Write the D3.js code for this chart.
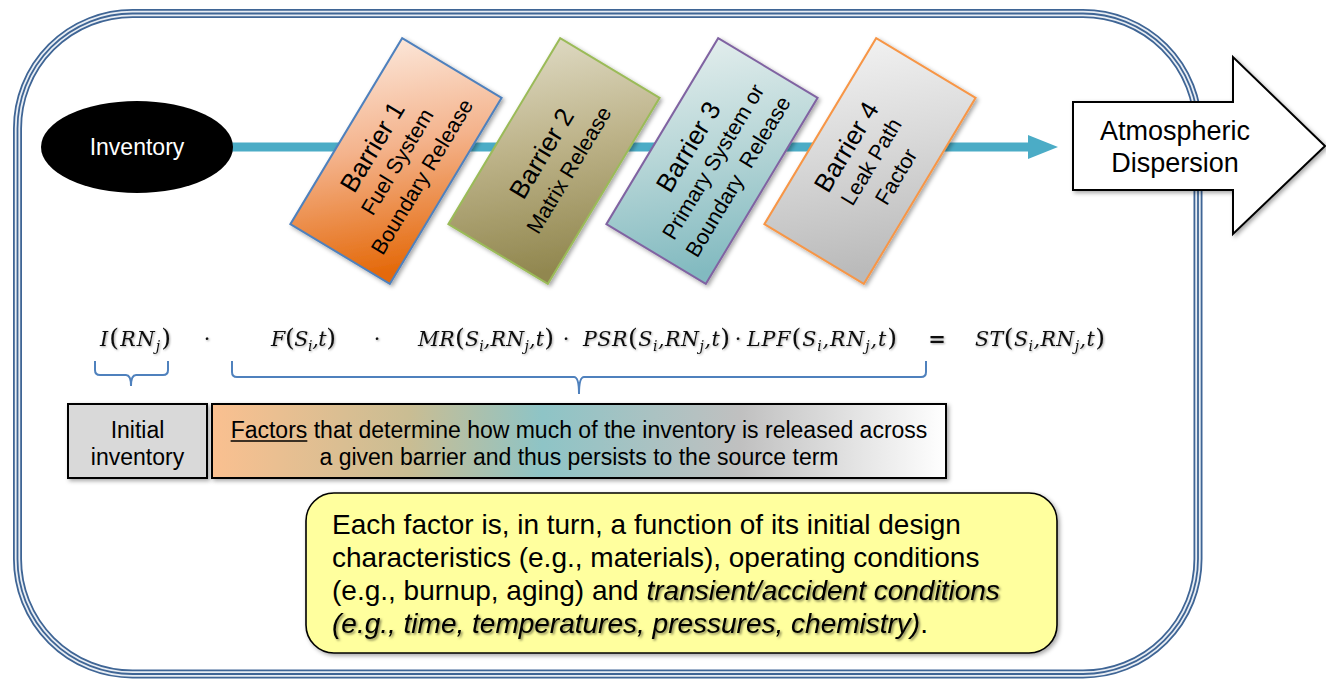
<!DOCTYPE html>
<html><head><meta charset="utf-8">
<script src="https://cdn.jsdelivr.net/npm/d3@7/dist/d3.min.js"></script>
<style>body{margin:0;background:#fff}svg{display:block}text{white-space:pre}</style>
</head><body>
<svg id="c" width="1326" height="680"></svg>
<script>
// ---------- data ----------
const sourceLabel = "Inventory";
const sinkLines = ["Atmospheric", "Dispersion"];
const barrierTitles = ["Barrier 1", "Barrier 2", "Barrier 3", "Barrier 4"];
const barrierSubtitles = [["Fuel System", "Boundary Release"], ["Matrix Release"], ["Primary System or", "Boundary  Release"], ["Leak Path", "Factor"]];
const equationTerms = ["I(RN_j)", "·", "F(S_i,t)", "·", "MR(S_i,RN_j,t)", "·", "PSR(S_i,RN_j,t)", "·", "LPF(S_i,RN_j,t)", "=", "ST(S_i,RN_j,t)"];
const initialLines = ["Initial", "inventory"];
const factorLines = [["Factors", " that determine how much of the inventory is released across"], ["", "a given barrier and thus persists to the source term"]];
const noteLines = [
  [["Each factor is, in turn, a function of its initial design", "n"]],
  [["characteristics (e.g., materials), operating conditions", "n"]],
  [["(e.g., burnup, aging) and ", "n"], ["transient/accident conditions", "i"]],
  [["(e.g., time, temperatures, pressures, chemistry)", "i"], [".", "n"]]
];

// ---------- styles / layout ----------
const barrierTop = ["#fdefe6", "#e3dfcb", "#e9f1f0", "#f5f5f5"];
const barrierMid = ["#f4b38c", "#bdb389", "#b9d7d8", "#d9d9d9"];
const barrierBot = ["#e4690a", "#91874f", "#82bac0", "#bababa"];
const barrierStroke = ["#4f81bd", "#9bbb59", "#8064a2", "#f79646"];
const eqSpans = [[100, 171], [207], [271, 336], [377], [418, 554], [566], [583, 730], [738], [747, 897], [937], [975, 1105]];

const svg = d3.select("#c");
const defs = svg.append("defs");
function shadow(id, dx, dy, sd, op) {
  const f = defs.append("filter").attr("id", id).attr("x", "-20%").attr("y", "-20%").attr("width", "140%").attr("height", "140%");
  f.append("feDropShadow").attr("dx", dx).attr("dy", dy).attr("stdDeviation", sd).attr("flood-color", "#000").attr("flood-opacity", op);
}
shadow("sh", 2, 2, 2, 0.35);
shadow("tsh", 1.5, 1.5, 1.3, 0.5);
shadow("esh", 1, 1, 0.9, 0.35);

const SANS = "Liberation Sans, Arial, sans-serif";

// ---------- frame ----------
const fr = {x: 17.5, y: 13.5, x2: 1198, y2: 674, r: 115};
[["#3f6595", 9], ["#e9eef4", 5.4], ["#3f6595", 1.8]].forEach(([c, w]) => {
  svg.append("rect").attr("x", fr.x).attr("y", fr.y).attr("width", fr.x2 - fr.x).attr("height", fr.y2 - fr.y)
    .attr("rx", fr.r).attr("fill", "none").attr("stroke", c).attr("stroke-width", w);
});

// ---------- flow line ----------
const flowY = 147;
svg.append("line").attr("x1", 200).attr("x2", 1032).attr("y1", flowY).attr("y2", flowY)
  .attr("stroke", "#4bacc6").attr("stroke-width", 9);
svg.append("path").attr("d", d3.line()([[1028, flowY - 12], [1058, flowY], [1028, flowY + 12]]))
  .attr("fill", "#4bacc6");

// ---------- source ellipse ----------
svg.append("ellipse").attr("cx", 137).attr("cy", flowY).attr("rx", 96).attr("ry", 46).attr("fill", "#000");
svg.append("text").attr("x", 137).attr("y", flowY + 8).attr("text-anchor", "middle")
  .attr("font-family", SANS).attr("font-size", 23).attr("fill", "#fff").text(sourceLabel);

// ---------- sink arrow ----------
const sink = [[1073, 102], [1233, 102], [1233, 57], [1325, 146], [1233, 234], [1233, 190], [1073, 190]];
svg.append("path").attr("d", d3.line()(sink) + "Z").attr("fill", "#fff").attr("stroke", "#000")
  .attr("stroke-width", 2).attr("stroke-linejoin", "miter").attr("filter", "url(#sh)");
svg.append("text").attr("x", 1175).attr("text-anchor", "middle")
  .attr("font-family", SANS).attr("font-size", 27).attr("fill", "#000")
  .selectAll("tspan").data(sinkLines).join("tspan").attr("x", 1175).attr("y", (d, i) => 140 + i * 32).text(d => d);

// ---------- barriers ----------
const bx = d3.scalePoint().domain(barrierTitles).range([396, 870]);
const bCy = 161, bW = 217, bH = 116, ang = -59;
const rad = ang * Math.PI / 180;
barrierTitles.forEach((t, i) => {
  const g = defs.append("linearGradient").attr("id", "bg" + i).attr("x1", 0).attr("y1", 0).attr("x2", 0.15).attr("y2", 1);
  g.append("stop").attr("offset", 0).attr("stop-color", barrierTop[i]);
  g.append("stop").attr("offset", 0.5).attr("stop-color", barrierMid[i]);
  g.append("stop").attr("offset", 1).attr("stop-color", barrierBot[i]);
});
const bG = svg.append("g");
barrierTitles.forEach((t, i) => {
  const cx = bx(t);
  const pts = [[-bW / 2, -bH / 2], [bW / 2, -bH / 2], [bW / 2, bH / 2], [-bW / 2, bH / 2]].map(([x, y]) =>
    [cx + x * Math.cos(rad) - y * Math.sin(rad), bCy + x * Math.sin(rad) + y * Math.cos(rad)]);
  bG.append("path").attr("d", d3.line()(pts) + "Z").attr("fill", `url(#bg${i})`).attr("stroke", barrierStroke[i])
    .attr("stroke-width", 2).attr("filter", "url(#sh)");
  const tg = bG.append("g").attr("transform", `translate(${cx},${bCy}) rotate(${ang})`);
  const subs = barrierSubtitles[i];
  const offs = subs.length === 2 ? [-28, 1, 30] : [-15, 17];
  tg.append("text").attr("x", 0).attr("y", offs[0]).attr("dy", "0.36em").attr("text-anchor", "middle")
    .attr("font-family", SANS).attr("font-size", 26).text(t);
  subs.forEach((s, k) => {
    tg.append("text").attr("x", 0).attr("y", offs[k + 1]).attr("dy", "0.36em").attr("text-anchor", "middle")
      .attr("font-family", SANS).attr("font-size", 21.5).text(s);
  });
});

// ---------- equation ----------
const eqY = 346;
const eqG = svg.append("g").attr("filter", "url(#esh)");
equationTerms.forEach((term, i) => {
  const span = eqSpans[i];
  const txt = eqG.append("text").attr("y", eqY).attr("font-family", "DejaVu Serif, serif").attr("fill", "#111");
  let n = 0, sub = false, prevSub = false;
  for (let k = 0; k < term.length; k++) {
    const ch = term[k];
    if (ch === "_") { sub = true; continue; }
    const ts = txt.append("tspan").text(ch);
    n++;
    if (sub) {
      ts.attr("font-size", 14).attr("font-style", "italic").attr("dy", 5);
    } else if (ch === "(" || ch === ")") {
      ts.attr("font-size", 25).attr("font-style", "normal");
    } else if (ch === "·" || ch === "=") {
      ts.attr("font-size", 21).attr("font-style", "normal").attr("font-weight", ch === "=" ? "bold" : "normal");
    } else {
      ts.attr("font-size", 20.5).attr("font-style", "italic");
    }
    if (prevSub) ts.attr("dy", -5);
    prevSub = sub;
    sub = false;
  }
  if (span.length === 2) {
    txt.attr("x", span[0]);
    const L = txt.node().getComputedTextLength();
    const ls = (span[1] - span[0] - L) / (n - 1);
    txt.attr("letter-spacing", ls);
  } else {
    txt.attr("x", span[0]).attr("text-anchor", "middle");
  }
});

// ---------- braces ----------
function brace(x1, x2, xm, yTop, yMid, yTip) {
  const r = 5;
  return `M${x1},${yTop} L${x1},${yMid - r} Q${x1},${yMid} ${x1 + r},${yMid} L${xm - r},${yMid} Q${xm},${yMid} ${xm},${yTip}` +
    ` M${xm},${yTip} Q${xm},${yMid} ${xm + r},${yMid} L${x2 - r},${yMid} Q${x2},${yMid} ${x2},${yMid - r} L${x2},${yTop}`;
}
svg.append("path").attr("d", brace(95, 168, 131, 361, 375, 386)).attr("fill", "none").attr("stroke", "#4f81bd").attr("stroke-width", 2);
svg.append("path").attr("d", brace(232, 926, 579, 361, 377, 394)).attr("fill", "none").attr("stroke", "#4f81bd").attr("stroke-width", 2);

// ---------- initial inventory box ----------
svg.append("rect").attr("x", 68).attr("y", 404).attr("width", 139).attr("height", 74)
  .attr("fill", "#d9d9d9").attr("stroke", "#000").attr("stroke-width", 2).attr("filter", "url(#sh)");
svg.append("text").attr("text-anchor", "middle").attr("font-family", SANS).attr("font-size", 23)
  .selectAll("tspan").data(initialLines).join("tspan").attr("x", 137.5).attr("y", (d, i) => 438 + i * 27).text(d => d);

// ---------- factors box ----------
const fg = defs.append("linearGradient").attr("id", "fg").attr("x1", 0).attr("x2", 1).attr("y1", 0).attr("y2", 0);
[[0, "#fac090"], [0.27, "#c9bd93"], [0.45, "#8ec4c6"], [0.6, "#aac2c2"], [0.72, "#c0c0c0"], [1, "#ffffff"]]
  .forEach(([o, c]) => fg.append("stop").attr("offset", o).attr("stop-color", c));
svg.append("rect").attr("x", 212).attr("y", 404).attr("width", 734).attr("height", 74)
  .attr("fill", "url(#fg)").attr("stroke", "#000").attr("stroke-width", 2).attr("filter", "url(#sh)");
factorLines.forEach((parts, i) => {
  const y = 438 + i * 27;
  const t = svg.append("text").attr("x", 579).attr("y", y).attr("text-anchor", "middle")
    .attr("font-family", SANS).attr("font-size", 23).text(parts[0] + parts[1]);
  if (parts[0]) {
    const L = t.node().getComputedTextLength();
    const l0 = t.node().getSubStringLength(0, parts[0].length);
    const x0 = 579 - L / 2;
    svg.append("line").attr("x1", x0).attr("x2", x0 + l0).attr("y1", y + 3).attr("y2", y + 3)
      .attr("stroke", "#000").attr("stroke-width", 1.5);
  }
});

// ---------- note box ----------
svg.append("rect").attr("x", 306).attr("y", 493).attr("width", 751).attr("height", 160).attr("rx", 28)
  .attr("fill", "#ffff9e").attr("stroke", "#000").attr("stroke-width", 1.6).attr("filter", "url(#sh)");
noteLines.forEach((parts, i) => {
  let x = 332;
  const y = 534 + i * 33;
  parts.forEach(([s, st]) => {
    const t = svg.append("text").attr("x", x).attr("y", y).attr("font-family", SANS)
      .attr("font-size", 28).attr("font-style", st === "i" ? "italic" : "normal").text(s);
    if (st === "i") t.attr("filter", "url(#tsh)");
    x += t.node().getComputedTextLength();
  });
});
</script>
</body></html>
